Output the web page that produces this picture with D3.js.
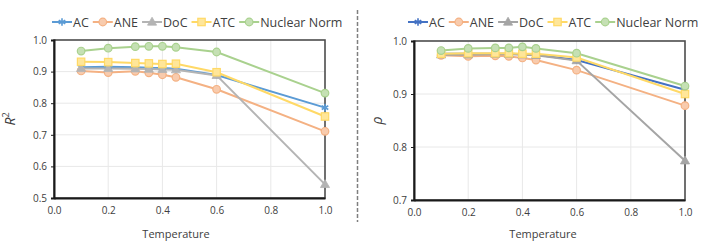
<!DOCTYPE html>
<html>
<head>
<meta charset="utf-8">
<script src="https://cdn.jsdelivr.net/npm/d3@7"></script>
<style>
  body { margin: 0; background: #fff; }
  text { font-family: "Open Sans", sans-serif; fill: #404040; }
</style>
</head>
<body>
<script>
var temps = [0.1, 0.2, 0.3, 0.35, 0.4, 0.45, 0.6, 1.0];
var seriesNames = ['AC', 'ANE', 'DoC', 'ATC', 'Nuclear Norm'];
var xTicks = [0, 0.2, 0.4, 0.6, 0.8, 1.0];

// left panel: R^2
var r2AC = [0.914, 0.915, 0.914, 0.912, 0.911, 0.909, 0.889, 0.786];
var r2ANE = [0.902, 0.897, 0.901, 0.896, 0.890, 0.882, 0.844, 0.711];
var r2DoC = [0.910, 0.910, 0.909, 0.908, 0.907, 0.906, 0.888, 0.543];
var r2ATC = [0.931, 0.930, 0.927, 0.926, 0.924, 0.925, 0.898, 0.758];
var r2NN = [0.965, 0.974, 0.979, 0.980, 0.980, 0.977, 0.962, 0.832];
var r2Ticks = [0.5, 0.6, 0.7, 0.8, 0.9, 1.0];

// right panel: rho
var rhoAC = [0.976, 0.976, 0.976, 0.976, 0.975, 0.974, 0.964, 0.908];
var rhoANE = [0.973, 0.971, 0.972, 0.971, 0.968, 0.964, 0.945, 0.878];
var rhoDoC = [0.974, 0.974, 0.975, 0.975, 0.974, 0.973, 0.963, 0.774];
var rhoATC = [0.976, 0.977, 0.977, 0.977, 0.976, 0.976, 0.969, 0.900];
var rhoNN = [0.982, 0.986, 0.987, 0.987, 0.989, 0.986, 0.977, 0.915];
var rhoTicks = [0.7, 0.8, 0.9, 1.0];

var width = 706;
var height = 250;

var svg = d3.select('body').append('svg')
  .attr('width', width)
  .attr('height', height);

var markers = ['star', 'circle', 'triangle', 'square', 'circle'];

function drawPanel(opt) {
  var x = d3.scaleLinear().domain([0, 1]).range([opt.left, opt.right]);
  var y = d3.scaleLinear().domain([opt.ticks[0], 1.0]).range([opt.bottom, opt.top]);
  var g = svg.append('g');

  // grid
  g.selectAll('.vg').data(xTicks.slice(1, -1)).enter().append('line')
    .attr('x1', function(d) { return x(d); }).attr('x2', function(d) { return x(d); })
    .attr('y1', opt.top).attr('y2', opt.bottom)
    .attr('stroke', '#e8e8e8').attr('stroke-width', 1);
  g.selectAll('.hg').data(opt.ticks.slice(1, -1)).enter().append('line')
    .attr('x1', opt.left).attr('x2', opt.right)
    .attr('y1', function(d) { return y(d); }).attr('y2', function(d) { return y(d); })
    .attr('stroke', '#e8e8e8').attr('stroke-width', 1);

  // frame
  g.append('rect')
    .attr('x', opt.left).attr('y', opt.top)
    .attr('width', opt.right - opt.left).attr('height', opt.bottom - opt.top)
    .attr('fill', 'none').attr('stroke', '#4d4d4d').attr('stroke-width', 1.6);

  var yAxis = g.append('g')
    .attr('transform', 'translate(' + opt.left + ',0)')
    .call(d3.axisLeft(y).tickValues(opt.ticks).tickFormat(d3.format('.1f')).tickSize(3).tickPadding(4));
  yAxis.select('.domain').attr('stroke', '#1a1a1a').attr('stroke-width', 2);
  yAxis.selectAll('.tick line').attr('stroke', '#1a1a1a');
  yAxis.selectAll('text').attr('font-size', 10).attr('fill', '#404040').attr('font-family', 'Open Sans');

  var xAxis = g.append('g')
    .attr('transform', 'translate(0,' + opt.bottom + ')')
    .call(d3.axisBottom(x).tickValues(xTicks).tickFormat(d3.format('.1f')).tickSize(0).tickPadding(9));
  xAxis.select('.domain').attr('stroke', '#1a1a1a').attr('stroke-width', 2);
  xAxis.selectAll('text').attr('font-size', 10).attr('fill', '#404040').attr('font-family', 'Open Sans');

  g.append('text')
    .attr('x', opt.titleX).attr('y', 238)
    .attr('text-anchor', 'middle').attr('font-size', 11)
    .text('Temperature');

  g.append('text')
    .attr('transform', 'translate(' + opt.yTitleX + ',' + ((opt.top + opt.bottom) / 2) + ') rotate(-90)')
    .attr('text-anchor', 'middle').attr('font-size', 14)
    .attr('font-family', 'DejaVu Serif').attr('font-style', 'italic')
    .call(opt.yTitle);

  var line = d3.line()
    .x(function(d, i) { return x(temps[i]); })
    .y(function(d) { return y(d); });

  opt.series.forEach(function(vals, k) {
    g.append('path').datum(vals)
      .attr('d', line)
      .attr('fill', 'none')
      .attr('stroke', opt.colors[k])
      .attr('stroke-width', 2);
  });
  opt.series.forEach(function(vals, k) {
    vals.forEach(function(v, i) {
      drawMarker(g, markers[k], x(temps[i]), y(v), opt.colors[k], opt.fills[k]);
    });
  });

  // legend
  var lx = opt.legendX;
  var ly = 22;
  seriesNames.forEach(function(name, k) {
    var lg = svg.append('g');
    lg.append('line')
      .attr('x1', lx).attr('x2', lx + 20).attr('y1', ly).attr('y2', ly)
      .attr('stroke', opt.colors[k]).attr('stroke-width', 2);
    drawMarker(lg, markers[k], lx + 10, ly, opt.colors[k], opt.fills[k]);
    var t = lg.append('text')
      .attr('x', lx + 21).attr('y', ly + 4.5)
      .attr('font-size', 12.5)
      .text(name);
    lx += 21 + t.node().getComputedTextLength() + 4;
  });
}

function drawMarker(g, type, cx, cy, stroke, fill) {
  if (type === 'circle') {
    g.append('circle').attr('cx', cx).attr('cy', cy).attr('r', 3.8)
      .attr('fill', fill).attr('stroke', stroke).attr('stroke-width', 1.2);
  } else if (type === 'square') {
    g.append('rect').attr('x', cx - 3.7).attr('y', cy - 3.7).attr('width', 7.4).attr('height', 7.4)
      .attr('fill', fill).attr('stroke', stroke).attr('stroke-width', 1.2);
  } else if (type === 'triangle') {
    g.append('path').attr('d', d3.symbol().type(d3.symbolTriangle).size(36)())
      .attr('transform', 'translate(' + cx + ',' + (cy + 0.5) + ')')
      .attr('fill', stroke).attr('stroke', stroke).attr('stroke-width', 0.8);
  } else {
    g.append('path').attr('d', d3.symbol().type(d3.symbolAsterisk).size(40)())
      .attr('transform', 'translate(' + cx + ',' + cy + ')')
      .attr('fill', 'none').attr('stroke', stroke).attr('stroke-width', 1.6);
  }
}

drawPanel({
  left: 54, right: 325, top: 40, bottom: 198,
  ticks: r2Ticks,
  series: [r2AC, r2ANE, r2DoC, r2ATC, r2NN],
  colors: ['#5b9bd5', '#f4b183', '#b4b4b4', '#ffd966', '#a9d18e'],
  fills: ['#5b9bd5', '#f8cbad', '#b4b4b4', '#ffe699', '#c5e0b4'],
  legendX: 52, titleX: 176, yTitleX: 15,
  yTitle: function(t) {
    t.append('tspan').text('R');
    t.append('tspan').attr('dy', -6).attr('font-size', 9).attr('font-style', 'normal').text('2');
  }
});

drawPanel({
  left: 414, right: 685, top: 41, bottom: 200,
  ticks: rhoTicks,
  series: [rhoAC, rhoANE, rhoDoC, rhoATC, rhoNN],
  colors: ['#4472c4', '#f4b183', '#a5a5a5', '#ffd966', '#a9d18e'],
  fills: ['#4472c4', '#f8cbad', '#a5a5a5', '#ffe699', '#c5e0b4'],
  legendX: 408, titleX: 543, yTitleX: 382,
  yTitle: function(t) { t.text('ρ'); }
});

// dashed divider
svg.append('line')
  .attr('x1', 357.5).attr('x2', 357.5).attr('y1', 10).attr('y2', 222)
  .attr('stroke', '#7f7f7f').attr('stroke-width', 1.5)
  .attr('stroke-dasharray', '4,2');
</script>
</body>
</html>
